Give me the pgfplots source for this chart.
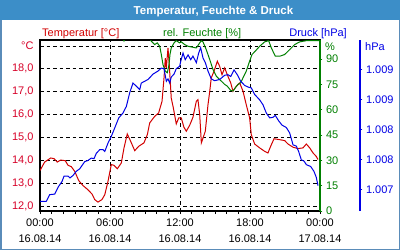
\documentclass[border=0pt]{standalone}
\usepackage{pgfplots}
\pgfplotsset{compat=1.18}
\usepackage{fontspec}
\setmainfont{Liberation Sans}
\definecolor{tred}{RGB}{210,0,0}
\definecolor{tredlab}{RGB}{215,0,40}
\definecolor{hgreen}{RGB}{0,128,0}
\definecolor{pblue}{RGB}{0,0,230}
\definecolor{titlebar}{RGB}{60,142,200}
\definecolor{framecol}{RGB}{90,140,185}
\pgfplotsset{
  base/.style={
    at={(40pt,39pt)}, anchor=south west, scale only axis,
    width=280pt, height=171pt, xmin=0, xmax=24,
    /pgf/number format/assume math mode=true,
    tick label style={font=\fontsize{11}{13}\selectfont},
  }
}
\begin{document}
\begin{tikzpicture}[font=\fontsize{11}{13}\selectfont]
\useasboundingbox (0pt,0pt) rectangle (400pt,250pt);
\begin{scope}[x=1pt,y=1pt]
\fill[framecol] (0,0) rectangle (400,250);
\fill[white] (1.5,1.5) rectangle (398.5,248.5);
\fill[titlebar] (0,230) rectangle (400,250);
\node[anchor=base, text=white, inner sep=0, font=\fontsize{11.5}{13}\selectfont\bfseries] at (213.5,235.5) {Temperatur, Feuchte \& Druck};
\node[anchor=base west, text=tred, inner sep=0] at (42,214) {Temperatur [°C]};
\node[anchor=base west, text=hgreen, inner sep=0] at (163,214) {rel. Feuchte [\%]};
\node[anchor=base east, text=pblue, inner sep=0] at (347,214) {Druck [hPa]};
\node[anchor=base west, text=hgreen, inner sep=0] at (325,200) {\%};
\node[anchor=base west, text=pblue, inner sep=0] at (365,200) {hPa};
\end{scope}

% temperature axis
\begin{axis}[base,
  ymin=11.78, ymax=19.26,
  axis background/.style={fill=white},
  axis line style={black, line width=1.2pt},
  xtick={0,6,12,18,24},
  xticklabels={{00:00\\16.08.14},{06:00\\16.08.14},{12:00\\16.08.14},{18:00\\16.08.14},{00:00\\17.08.14}},
  xticklabel style={align=center, font=\fontsize{11}{16}\selectfont, yshift=-1pt},
  minor x tick num=5,
  xtick pos=bottom, ytick pos=left,
  tick align=outside,
  major tick length=3pt, minor tick length=3pt,
  every tick/.style={black, line width=0.8pt},
  ytick={12,13,14,15,16,17,18,19},
  yticklabels={{12,0},{13,0},{14,0},{15,0},{16,0},{17,0},{18,0},{°C}},
  yticklabel style={text=tredlab},
  ytick style={draw=none},
  xmajorgrids, ymajorgrids,
  major grid style={black, line width=0.8pt, dash pattern=on 3.5pt off 3pt},
]
\addplot[tred, line width=1pt] coordinates {
(0.0,13.55) (0.40,13.92) (0.92,14.10) (1.20,14.07) (1.48,13.92) (1.77,14.01) (2.17,13.98) (2.40,13.78) (2.68,13.72) (2.97,13.52) (3.32,13.11) (3.69,12.89) (4.11,12.71) (4.46,12.52) (4.69,12.28) (4.97,12.17) (5.31,12.28) (5.55,12.49) (5.83,13.08) (6.11,13.81) (6.34,13.78) (6.63,13.63) (6.97,13.88) (7.20,14.54) (7.48,15.15) (7.77,14.83) (8.12,14.42) (8.46,14.61) (8.91,14.76) (9.20,15.12) (9.40,15.63) (9.83,15.92) (10.17,16.07) (10.46,16.58) (10.63,17.60) (10.74,18.47) (10.83,18.04) (10.97,18.91) (11.08,18.18) (11.25,16.72) (11.43,16.29) (11.68,15.59) (11.89,15.85) (12.11,15.85) (12.34,15.44) (12.54,15.27) (12.83,15.53) (13.11,15.88) (13.40,16.58) (13.54,16.65) (13.69,15.99) (13.83,14.76) (13.97,14.97) (14.17,15.27) (14.40,16.43) (14.55,17.02) (14.68,17.60) (14.91,17.89) (15.20,18.33) (15.40,18.11) (15.60,17.74) (15.83,18.04) (16.11,17.67) (16.35,17.38) (16.54,17.02) (16.83,17.24) (17.12,17.38) (17.40,17.02) (17.68,16.43) (17.97,15.85) (18.11,15.12) (18.40,14.71) (18.83,14.54) (19.26,14.39) (19.54,14.32) (19.77,14.61) (20.06,14.94) (20.55,14.90) (20.97,14.86) (21.26,14.71) (21.69,14.57) (22.11,14.51) (22.54,14.54) (22.83,14.71) (23.12,14.54) (23.40,14.32) (23.68,14.17) (23.83,14.03)
};
\end{axis}

% humidity axis
\begin{axis}[base,
  ymin=0, ymax=101.2,
  axis x line=none, axis y line*=right,
  axis line style={hgreen, line width=1.2pt, -},
  ytick={0,15,30,45,60,75,90},
  yticklabel style={text=hgreen},
  tick align=outside, major tick length=2.5pt,
  ytick style={hgreen, line width=0.8pt},
]
\addplot[hgreen, line width=1pt] coordinates {
(0,103) (7.0,103) (7.2,100.6) (7.4,103) (9.3,103) (9.54,100.5) (9.83,98.5) (10.05,99.5) (10.26,97.5) (10.40,92.6) (10.54,86.7) (10.74,82.8) (10.91,81.8) (11.06,86.7) (11.14,92.6) (11.25,96.5) (11.49,99.5) (11.68,100.8) (11.97,99.5) (12.11,100.1) (12.40,98.5) (12.69,97.5) (13.11,96.9) (13.40,96.5) (13.69,99.5) (13.83,100.8) (13.97,100.1) (14.25,95.5) (14.55,89.6) (14.83,83.7) (15.11,79.8) (15.40,77.8) (15.69,75.9) (15.83,74.9) (16.05,73.9) (16.17,72.9) (16.35,71.3) (16.54,71.0) (16.74,72.9) (16.97,74.9) (17.20,75.9) (17.40,78.8) (17.68,82.8) (17.97,88.7) (18.17,92.6) (18.45,94.6) (18.83,97.5) (19.26,100.1) (19.60,100.8) (19.83,96.5) (20.17,91.6) (20.55,91.6) (20.97,92.6) (21.40,95.5) (21.83,98.5) (22.26,100.1) (22.83,100.8) (23.55,100.8) (23.97,100.8)
};
\end{axis}

% pressure axis
\begin{axis}[base,
  ymin=1006.638, ymax=1009.488,
  axis x line=none, axis y line*=right,
  axis line style={pblue, line width=1.2pt, -},
  y axis line style={xshift=40pt},
  ytick={1007,1007.5,1008,1008.5,1009},
  yticklabels={1.007,1.008,1.008,1.009,1.009},
  yticklabel style={text=pblue, xshift=40pt},
  tick align=outside, major tick length=2.5pt,
  ytick style={pblue, line width=0.8pt, xshift=40pt},
]
\addplot[pblue, line width=1pt] coordinates {
(0.0,1006.80) (0.54,1006.80) (0.83,1006.91) (1.26,1006.92) (1.60,1007.05) (1.89,1007.13) (2.06,1007.22) (2.40,1007.22) (2.57,1007.19) (2.83,1007.23) (3.11,1007.30) (3.40,1007.34) (3.83,1007.46) (4.11,1007.48) (4.40,1007.52) (4.63,1007.51) (4.83,1007.60) (5.12,1007.66) (5.40,1007.66) (5.55,1007.63) (5.83,1007.77) (6.11,1007.88) (6.40,1008.02) (6.75,1008.19) (7.11,1008.27) (7.40,1008.38) (7.69,1008.61) (7.97,1008.77) (8.25,1008.72) (8.55,1008.66) (8.68,1008.77) (8.97,1008.80) (9.26,1008.83) (9.69,1008.92) (10.11,1008.97) (10.40,1009.02) (10.63,1009.01) (10.83,1008.80) (10.97,1008.84) (11.12,1008.77) (11.25,1008.87) (11.49,1008.92) (11.68,1009.01) (11.97,1009.05) (12.06,1009.13) (12.26,1009.27) (12.45,1009.16) (12.69,1009.24) (12.92,1009.16) (13.11,1009.22) (13.40,1009.11) (13.60,1009.27) (13.77,1009.36) (13.97,1009.19) (14.17,1009.11) (14.40,1008.97) (14.68,1008.84) (14.97,1008.81) (15.40,1008.83) (15.83,1008.90) (16.11,1008.91) (16.35,1008.88) (16.63,1008.99) (16.91,1008.91) (17.20,1008.80) (17.55,1008.73) (17.89,1008.70) (18.11,1008.69) (18.40,1008.58) (18.83,1008.49) (19.11,1008.41) (19.40,1008.27) (19.69,1008.19) (19.97,1008.20) (20.17,1008.23) (20.46,1008.14) (20.74,1008.07) (21.11,1008.03) (21.40,1007.94) (21.69,1007.74) (21.97,1007.72) (22.17,1007.63) (22.40,1007.49) (22.63,1007.47) (22.83,1007.41) (23.20,1007.38) (23.48,1007.30) (23.68,1007.20) (23.83,1007.06)
};
\end{axis}
\end{tikzpicture}
\end{document}
